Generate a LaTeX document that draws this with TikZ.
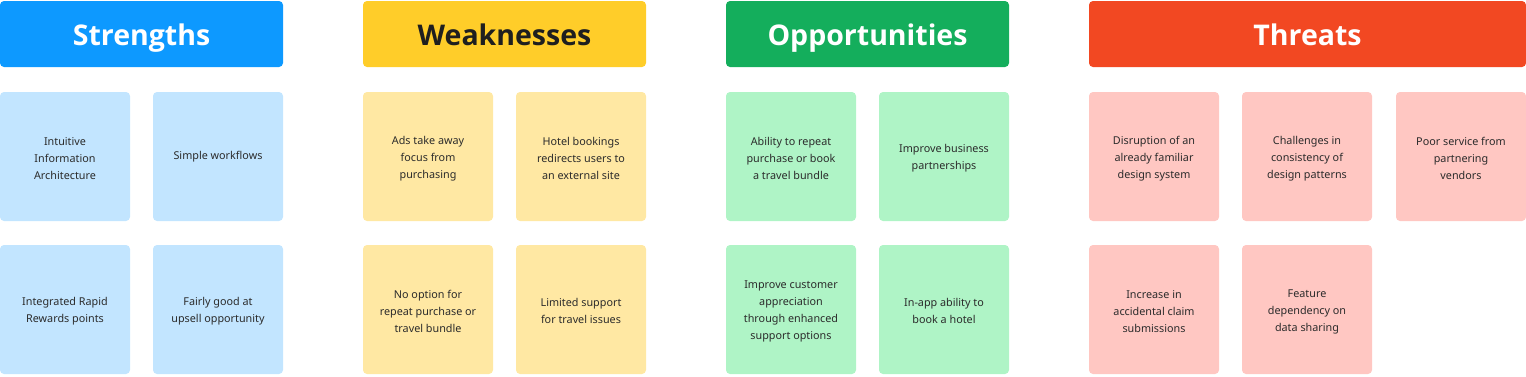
\documentclass[tikz,border=0pt]{standalone}
\usepackage{fontspec}
\setmainfont{Noto Sans}
\newfontfamily\headfont{Open Sans}
\usepackage{xcolor}
\usetikzlibrary{positioning}

\definecolor{sBlue}{HTML}{0D99FF}
\definecolor{sBlueL}{HTML}{C2E5FF}
\definecolor{wYellow}{HTML}{FFCD29}
\definecolor{wYellowL}{HTML}{FFE8A3}
\definecolor{oGreen}{HTML}{14AE5C}
\definecolor{oGreenL}{HTML}{AFF4C6}
\definecolor{tRed}{HTML}{F24822}
\definecolor{tRedL}{HTML}{FFC7C2}
\definecolor{ink}{HTML}{2B2B2B}

\begin{document}
\begin{tikzpicture}[
  x=1pt, y=-1pt,
  head/.style={rectangle, rounded corners=4pt, inner sep=0pt, outer sep=0pt, minimum height=66pt, text height=26pt, text depth=3pt, font=\headfont\fontsize{28.5}{34}\selectfont\bfseries, text=white},
  sticky/.style={rectangle, rounded corners=4pt, inner sep=0pt, outer sep=0pt, minimum width=130pt, minimum height=129pt, align=center, font=\fontsize{10.8}{17}\selectfont, text=ink},
  blue/.style={sticky, fill=sBlueL},
  yellow/.style={sticky, fill=wYellowL},
  green/.style={sticky, fill=oGreenL},
  red/.style={sticky, fill=tRedL}
]
\useasboundingbox (0,0) rectangle (1526,376);

% headers
\node[head, fill=sBlue, minimum width=283pt, anchor=north west] (str) at (0,1) {Strengths};
\node[head, fill=wYellow, text=black!88, minimum width=283pt, right=80pt of str] (weak) {Weaknesses};
\node[head, fill=oGreen, minimum width=283pt, right=80pt of weak] (opp) {Opportunities};
\node[head, fill=tRed, minimum width=437pt, right=80pt of opp] (thr) {Threats};

% strengths
\node[blue, below=25pt of str.south west, anchor=north west] (s1) {\strut Intuitive\\Information\\Architecture};
\node[blue, right=23pt of s1] (s2) {\strut Simple workflows};
\node[blue, below=24pt of s1] (s3) {\strut Integrated Rapid\\Rewards points};
\node[blue, right=23pt of s3] (s4) {\strut Fairly good at\\upsell opportunity};

% weaknesses
\node[yellow, below=25pt of weak.south west, anchor=north west] (w1) {\strut Ads take away\\focus from\\purchasing};
\node[yellow, right=23pt of w1] (w2) {\strut Hotel bookings\\redirects users to\\an external site};
\node[yellow, below=24pt of w1] (w3) {\strut No option for\\repeat purchase or\\travel bundle};
\node[yellow, right=23pt of w3] (w4) {\strut Limited support\\for travel issues};

% opportunities
\node[green, below=25pt of opp.south west, anchor=north west] (o1) {\strut Ability to repeat\\purchase or book\\a travel bundle};
\node[green, right=23pt of o1] (o2) {\strut Improve business\\partnerships};
\node[green, below=24pt of o1] (o3) {\strut Improve customer\\appreciation\\through enhanced\\support options};
\node[green, right=23pt of o3] (o4) {\strut In-app ability to\\book a hotel};

% threats
\node[red, below=25pt of thr.south west, anchor=north west] (t1) {\strut Disruption of an\\already familiar\\design system};
\node[red, right=23pt of t1] (t2) {\strut Challenges in\\consistency of\\design patterns};
\node[red, right=24pt of t2] (t3) {\strut Poor service from\\partnering\\vendors};
\node[red, below=24pt of t1] (t4) {\strut Increase in\\accidental claim\\submissions};
\node[red, right=23pt of t4] (t5) {\strut Feature\\dependency on\\data sharing};
\end{tikzpicture}
\end{document}
